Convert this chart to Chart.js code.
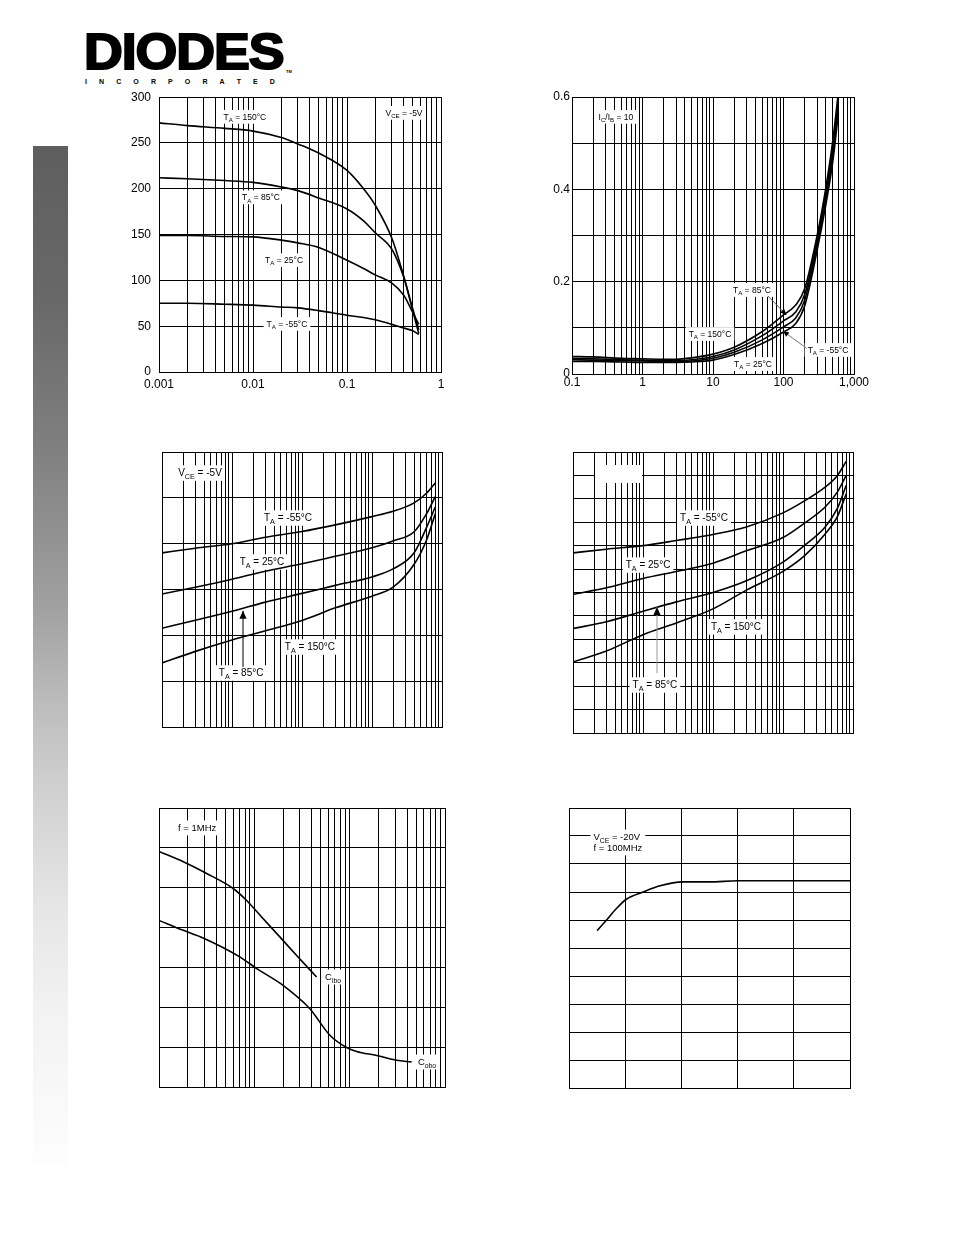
<!DOCTYPE html>
<html><head><meta charset="utf-8">
<script src="https://cdn.jsdelivr.net/npm/chart.js@4/dist/chart.umd.min.js"></script>
<style>
html,body{margin:0;padding:0;background:#fff;}
body{width:954px;height:1235px;position:relative;overflow:hidden;font-family:"Liberation Sans",Arial,sans-serif;}
canvas{position:absolute;}
#side{position:absolute;left:33px;top:146px;width:35px;height:1019px;
 background:linear-gradient(to bottom,#5e5e5e 0%,#686868 15%,#808080 30%,#a0a0a0 45%,#bdbdbd 55%,#d4d4d4 65%,#e6e6e6 75%,#f2f2f2 85%,#fdfdfd 100%);}
#logo-main{position:absolute;left:84px;top:26.5px;font:bold 50px/50px "Liberation Sans",Arial,sans-serif;letter-spacing:-1px;-webkit-text-stroke:2px #000;color:#000;transform:scaleX(1.075);transform-origin:0 0;white-space:nowrap;}
#logo-inc{position:absolute;left:85px;top:77.5px;width:190px;display:flex;justify-content:space-between;font:bold 7px/8px "Liberation Sans",Arial,sans-serif;color:#000;}
#logo-tm{position:absolute;left:286px;top:69px;font:bold 4px/5px "Liberation Sans",Arial,sans-serif;}
</style></head>
<body>
<div id="side"></div>
<div id="logo-main">DIODES</div>
<div id="logo-inc"><span>I</span><span>N</span><span>C</span><span>O</span><span>R</span><span>P</span><span>O</span><span>R</span><span>A</span><span>T</span><span>E</span><span>D</span></div>
<div id="logo-tm">TM</div>
<canvas id="c1"></canvas><canvas id="c2"></canvas><canvas id="c3"></canvas>
<canvas id="c4"></canvas><canvas id="c5"></canvas><canvas id="c6"></canvas>
<script>
// ================= DATA =================
// Chart 1: DC current gain vs collector current (A)
const c1Current = [0.001, 0.002, 0.005, 0.01, 0.02, 0.03, 0.05, 0.1, 0.15, 0.2, 0.3, 0.4, 0.5, 0.58];
const c1Gain150 = [272, 269, 266, 263, 256, 249, 239, 220, 200, 182, 146, 105, 67, 42];
const c1Gain85  = [212, 211, 209, 207, 202, 198, 190, 178, 165, 152, 134, 104, 69, 46];
const c1Gain25  = [149, 149, 148, 147.5, 144, 141, 136, 122, 113, 106, 97, 84, 65, 52];
const c1GainM55 = [75, 75, 74, 73, 71, 70, 67, 62, 59.5, 57, 52, 48, 45, 41];
const c1XLabelValues = [0.001, 0.01, 0.1, 1];
const c1XLabels = ['0.001', '0.01', '0.1', '1'];
const c1YTicks = [0, 50, 100, 150, 200, 250, 300];
const c1YLabels = ['0', '50', '100', '150', '200', '250', '300'];

// Chart 2: VCE(sat) vs collector current (mA)
const c2Current = [0.1, 0.2, 0.5, 1, 2, 3, 5, 10, 20, 50, 100, 150, 200, 300, 400, 500, 600];
const c2Vce150 = [0.038, 0.037, 0.034, 0.033, 0.032, 0.032, 0.035, 0.043, 0.058, 0.092, 0.128, 0.150, 0.185, 0.300, 0.405, 0.505, 0.610];
const c2Vce85  = [0.034, 0.033, 0.031, 0.030, 0.029, 0.029, 0.031, 0.038, 0.052, 0.083, 0.115, 0.135, 0.172, 0.290, 0.395, 0.490, 0.595];
const c2Vce25  = [0.031, 0.030, 0.029, 0.028, 0.027, 0.027, 0.028, 0.034, 0.047, 0.074, 0.102, 0.122, 0.160, 0.280, 0.380, 0.475, 0.580];
const c2VceM55 = [0.027, 0.027, 0.026, 0.025, 0.025, 0.025, 0.026, 0.030, 0.042, 0.066, 0.091, 0.110, 0.148, 0.268, 0.368, 0.460, 0.565];
const c2XLabelValues = [0.1, 1, 10, 100, 1000];
const c2XLabels = ['0.1', '1', '10', '100', '1,000'];
const c2YTicks = [0, 0.1, 0.2, 0.3, 0.4, 0.5, 0.6];
const c2YLabelValues = [0, 0.2, 0.4, 0.6];
const c2YLabels = ['0', '0.2', '0.4', '0.6'];

// Chart 3: VBE(on) vs collector current
const c3Current = [0.1, 0.3, 1, 3, 10, 30, 100, 200, 400, 600, 800];
const c3VbeM55 = [0.760, 0.780, 0.800, 0.828, 0.853, 0.882, 0.918, 0.941, 0.978, 1.020, 1.065];
const c3Vbe25  = [0.580, 0.610, 0.645, 0.680, 0.712, 0.745, 0.782, 0.812, 0.852, 0.930, 1.005];
const c3Vbe85  = [0.431, 0.466, 0.505, 0.545, 0.583, 0.618, 0.655, 0.690, 0.760, 0.870, 0.960];
const c3Vbe150 = [0.279, 0.330, 0.380, 0.420, 0.465, 0.520, 0.571, 0.610, 0.710, 0.815, 0.930];
const c3YTicks = [0, 0.2, 0.4, 0.6, 0.8, 1.0, 1.2];

// Chart 4: VBE(sat) vs collector current
const c4Current = [0.1, 0.3, 1, 3, 10, 30, 100, 200, 400, 600, 800];
const c4VbeM55 = [0.769, 0.785, 0.800, 0.822, 0.848, 0.880, 0.940, 0.990, 1.050, 1.100, 1.160];
const c4Vbe25  = [0.592, 0.620, 0.660, 0.690, 0.725, 0.778, 0.835, 0.895, 0.965, 1.030, 1.100];
const c4Vbe85  = [0.446, 0.475, 0.520, 0.560, 0.600, 0.650, 0.730, 0.800, 0.880, 0.960, 1.058];
const c4Vbe150 = [0.303, 0.350, 0.420, 0.470, 0.530, 0.610, 0.690, 0.755, 0.850, 0.925, 1.022];
const c4YTicks = [0, 0.1, 0.2, 0.3, 0.4, 0.5, 0.6, 0.7, 0.8, 0.9, 1.0, 1.1, 1.2];

// Chart 5: capacitance vs reverse voltage
const c5CiboV = [0.1, 0.18, 0.32, 0.6, 0.83, 1.24, 1.86, 2.78, 4.5];
const c5Cibo  = [59.1, 56.5, 53.5, 49.8, 46.8, 42.2, 37.6, 33, 27.6];
const c5CoboV = [0.1, 0.18, 0.29, 0.71, 1.06, 2.0, 3.8, 6.2, 9.3, 11.8, 19.2, 31, 44.6];
const c5Cobo  = [41.8, 39.3, 37.4, 32.6, 29.7, 25.5, 19.7, 13, 9.9, 8.9, 7.9, 6.7, 6.3];
const c5YTicks = [0, 10, 20, 30, 40, 50, 60, 70];

// Chart 6: gain-bandwidth product vs collector current
const c6Current = [5, 6.6, 8.4, 10.2, 13.2, 16.2, 20.2, 25, 30, 40, 50];
const c6Ft      = [281, 299, 320, 337, 350, 361, 368, 368, 370, 370, 370];
const c6XTicks = [0, 10, 20, 30, 40, 50];
const c6YTicks = [0, 50, 100, 150, 200, 250, 300, 350, 400, 450, 500];

// ================= HELPERS =================
const FONT = '"Liberation Sans", Arial, sans-serif';
Chart.defaults.font.family = FONT;
Chart.defaults.color = '#000';

function logGrid(min, max) {
  const out = [];
  const e0 = Math.floor(Math.log10(min) + 1e-9), e1 = Math.ceil(Math.log10(max) - 1e-9);
  for (let e = e0; e <= e1; e++) for (let m = 1; m <= 9; m++) {
    const v = parseFloat((m * Math.pow(10, e)).toPrecision(6));
    if (v >= min * 0.9999 && v <= max * 1.0001) out.push(v);
  }
  return out;
}
function near(a, b) { return Math.abs(a - b) <= Math.abs(b) * 1e-6 + 1e-9; }
function series(xs, ys) { return xs.map((x, i) => ({ x, y: ys[i] })); }
function line(name, xs, ys) {
  return { label: name, data: series(xs, ys), showLine: true, borderColor: '#000', borderWidth: 1.6,
           pointRadius: 0, fill: false, cubicInterpolationMode: 'monotone' };
}

function parseRich(s) {
  const parts = []; const re = /_\{([^}]*)\}/g; let last = 0, m;
  while ((m = re.exec(s))) {
    if (m.index > last) parts.push({ t: s.slice(last, m.index), sub: false });
    parts.push({ t: m[1], sub: true }); last = re.lastIndex;
  }
  if (last < s.length) parts.push({ t: s.slice(last), sub: false });
  return parts;
}
function drawLabel(ctx, cx, cy, lines, size) {
  const sub = size * 0.72, lh = size * 1.15;
  const parsed = lines.map(parseRich);
  const widths = parsed.map(ps => ps.reduce((w, p) => { ctx.font = (p.sub ? sub : size) + 'px ' + FONT; return w + ctx.measureText(p.t).width; }, 0));
  const maxW = Math.max(...widths);
  const W = maxW + 6, H = lh * lines.length + 4;
  ctx.fillStyle = '#fff'; ctx.fillRect(cx - W / 2, cy - H / 2, W, H);
  ctx.fillStyle = '#000'; ctx.textAlign = 'left'; ctx.textBaseline = 'alphabetic';
  parsed.forEach((ps, i) => {
    let x = lines.length > 1 ? cx - maxW / 2 : cx - widths[i] / 2;
    const base = cy - H / 2 + 2 + lh * i + size * 0.9;
    ps.forEach(p => {
      ctx.font = (p.sub ? sub : size) + 'px ' + FONT;
      ctx.fillText(p.t, x, base + (p.sub ? size * 0.3 : 0));
      x += ctx.measureText(p.t).width;
    });
  });
}
const notesPlugin = {
  id: 'notes',
  beforeDatasetsDraw(chart, args, opts) {
    const ctx = chart.ctx, xs = chart.scales.x, ys = chart.scales.y;
    ctx.save();
    (opts.boxes || []).forEach(b => {
      ctx.fillStyle = '#fff';
      ctx.fillRect(xs.getPixelForValue(b.x) - b.w / 2, ys.getPixelForValue(b.y) - b.h / 2, b.w, b.h);
    });
    (opts.labels || []).forEach(l => drawLabel(ctx, xs.getPixelForValue(l.x), ys.getPixelForValue(l.y), l.text, opts.size || 9));
    ctx.restore();
  },
  afterDatasetsDraw(chart, args, opts) {
    const ctx = chart.ctx, xs = chart.scales.x, ys = chart.scales.y;
    ctx.save();
    (opts.arrows || []).forEach(a => {
      const x1 = xs.getPixelForValue(a.x1), y1 = ys.getPixelForValue(a.y1);
      const x2 = xs.getPixelForValue(a.x2), y2 = ys.getPixelForValue(a.y2);
      ctx.strokeStyle = a.color; ctx.lineWidth = 1;
      ctx.beginPath(); ctx.moveTo(x1, y1); ctx.lineTo(x2, y2); ctx.stroke();
      const ang = Math.atan2(y2 - y1, x2 - x1), L = a.head, Wd = a.head * 0.45;
      ctx.fillStyle = '#000'; ctx.beginPath();
      ctx.moveTo(x2, y2);
      ctx.lineTo(x2 - L * Math.cos(ang) + Wd * Math.sin(ang), y2 - L * Math.sin(ang) - Wd * Math.cos(ang));
      ctx.lineTo(x2 - L * Math.cos(ang) - Wd * Math.sin(ang), y2 - L * Math.sin(ang) + Wd * Math.cos(ang));
      ctx.closePath(); ctx.fill();
    });
    ctx.restore();
  }
};
Chart.register(notesPlugin);

function axis(spec, which) {
  const show = !!spec.labels;
  return {
    type: spec.type, min: spec.min, max: spec.max, position: which === 'x' ? 'bottom' : 'left',
    grid: { color: '#000', lineWidth: 1, drawTicks: false },
    border: { color: '#000', width: 1 },
    ticks: {
      display: show, autoSkip: false, maxRotation: 0, minRotation: 0, padding: spec.pad || 0,
      color: '#000', font: { family: FONT, size: 12 },
      callback: (v) => { if (!show) return ''; const i = spec.labelValues.findIndex(t => near(t, v)); return i >= 0 ? spec.labels[i] : ''; }
    },
    afterBuildTicks: (s) => { s.ticks = spec.grid.map(v => ({ value: v })); },
    afterFit: (s) => { if (which === 'x') s.height = spec.size || 0; else s.width = spec.size || 0; }
  };
}

function makeChart(id, plot, m, xSpec, ySpec, datasets, notes) {
  const cv = document.getElementById(id);
  let w = plot.r - plot.l + m.l + m.r, h = plot.b - plot.t + m.t + m.b;
  let L = plot.l - m.l, T = plot.t - m.t;
  cv.width = w; cv.height = h;
  cv.style.left = L + 'px'; cv.style.top = T + 'px';
  cv.style.width = w + 'px'; cv.style.height = h + 'px';
  const chart = new Chart(cv, {
    type: 'scatter',
    data: { datasets },
    options: {
      responsive: false, animation: false, devicePixelRatio: 1,
      layout: { padding: { left: m.l - (ySpec.size || 0), top: m.t, right: m.r, bottom: m.b - (xSpec.size || 0) } },
      plugins: { legend: { display: false }, tooltip: { enabled: false }, notes },
      events: [],
      scales: { x: axis(xSpec, 'x'), y: axis(ySpec, 'y') }
    }
  });
  // align the library's chart area with the intended plot rectangle
  for (let k = 0; k < 4; k++) {
    const ca = chart.chartArea;
    const dl = plot.l - (L + ca.left), dt = plot.t - (T + ca.top);
    const dr = plot.r - (L + ca.right), db = plot.b - (T + ca.bottom);
    if (Math.abs(dl) < 0.5 && Math.abs(dt) < 0.5 && Math.abs(dr) < 0.5 && Math.abs(db) < 0.5) break;
    L += dl; T += dt; w += dr - dl; h += db - dt;
    w = Math.round(w); h = Math.round(h); L = Math.round(L); T = Math.round(T);
    cv.style.left = L + 'px'; cv.style.top = T + 'px';
    chart.resize(w, h);
  }
  return chart;
}

// ================= CHARTS =================
makeChart('c1', { l: 159, t: 97, r: 441, b: 377 }, { l: 50, t: 10, r: 20, b: 26 },
  { type: 'logarithmic', min: 0.001, max: 1, grid: logGrid(0.001, 1), labelValues: c1XLabelValues, labels: c1XLabels, size: 24, pad: 5 },
  { type: 'linear', min: 0, max: 300, grid: c1YTicks, labelValues: c1YTicks, labels: c1YLabels, size: 48, pad: 8 },
  [line('TA = 150°C', c1Current, c1Gain150), line('TA = 85°C', c1Current, c1Gain85),
   line('TA = 25°C', c1Current, c1Gain25), line('TA = -55°C', c1Current, c1GainM55)],
  { size: 8.5, labels: [
    { x: 0.0082, y: 278.6, text: ['T_{A} = 150°C'] },
    { x: 0.404, y: 282.9, text: ['V_{CE} = -5V'] },
    { x: 0.01216, y: 190.7, text: ['T_{A} = 85°C'] },
    { x: 0.0214, y: 122.1, text: ['T_{A} = 25°C'] },
    { x: 0.023, y: 52.5, text: ['T_{A} = -55°C'] } ] });

makeChart('c2', { l: 572, t: 97, r: 854, b: 374 }, { l: 50, t: 10, r: 25, b: 26 },
  { type: 'logarithmic', min: 0.1, max: 1000, grid: logGrid(0.1, 1000), labelValues: c2XLabelValues, labels: c2XLabels, size: 24, pad: 1 },
  { type: 'linear', min: 0, max: 0.6, grid: c2YTicks, labelValues: c2YLabelValues, labels: c2YLabels, size: 48, pad: 2 },
  [line('TA = 150°C', c2Current, c2Vce150), line('TA = 85°C', c2Current, c2Vce85),
   line('TA = 25°C', c2Current, c2Vce25), line('TA = -55°C', c2Current, c2VceM55)],
  { size: 8.5, labels: [
    { x: 0.42, y: 0.557, text: ['I_{C}/I_{B} = 10'] },
    { x: 35.7, y: 0.182, text: ['T_{A} = 85°C'] },
    { x: 9.06, y: 0.0866, text: ['T_{A} = 150°C'] },
    { x: 428, y: 0.052, text: ['T_{A} = -55°C'] },
    { x: 36.9, y: 0.0217, text: ['T_{A} = 25°C'] } ],
    arrows: [
    { x1: 60, y1: 0.169, x2: 110, y2: 0.128, color: '#555', head: 6 },
    { x1: 212, y1: 0.056, x2: 98, y2: 0.093, color: '#777', head: 6 } ] });

makeChart('c3', { l: 162, t: 452, r: 442, b: 727 }, { l: 3, t: 3, r: 3, b: 3 },
  { type: 'logarithmic', min: 0.1, max: 1000, grid: logGrid(0.1, 1000) },
  { type: 'linear', min: 0, max: 1.2, grid: c3YTicks },
  [line('TA = -55°C', c3Current, c3VbeM55), line('TA = 25°C', c3Current, c3Vbe25),
   line('TA = 85°C', c3Current, c3Vbe85), line('TA = 150°C', c3Current, c3Vbe150)],
  { size: 10, labels: [
    { x: 0.349, y: 1.108, text: ['V_{CE} = -5V'] },
    { x: 6.31, y: 0.912, text: ['T_{A} = -55°C'] },
    { x: 2.68, y: 0.72, text: ['T_{A} = 25°C'] },
    { x: 13, y: 0.349, text: ['T_{A} = 150°C'] },
    { x: 1.35, y: 0.2356, text: ['T_{A} = 85°C'] } ],
    arrows: [ { x1: 1.436, y1: 0.262, x2: 1.436, y2: 0.507, color: '#000', head: 8 } ] });

makeChart('c4', { l: 573, t: 452, r: 853, b: 733 }, { l: 3, t: 3, r: 3, b: 3 },
  { type: 'logarithmic', min: 0.1, max: 1000, grid: logGrid(0.1, 1000) },
  { type: 'linear', min: 0, max: 1.2, grid: c4YTicks },
  [line('TA = -55°C', c4Current, c4VbeM55), line('TA = 25°C', c4Current, c4Vbe25),
   line('TA = 85°C', c4Current, c4Vbe85), line('TA = 150°C', c4Current, c4Vbe150)],
  { size: 10, boxes: [ { x: 0.447, y: 1.106, w: 47, h: 18 } ], labels: [
    { x: 7.44, y: 0.918, text: ['T_{A} = -55°C'] },
    { x: 1.18, y: 0.717, text: ['T_{A} = 25°C'] },
    { x: 21.3, y: 0.453, text: ['T_{A} = 150°C'] },
    { x: 1.48, y: 0.205, text: ['T_{A} = 85°C'] } ],
    arrows: [ { x1: 1.585, y1: 0.256, x2: 1.585, y2: 0.538, color: '#999', head: 8 } ] });

makeChart('c5', { l: 159, t: 808, r: 445, b: 1087 }, { l: 3, t: 3, r: 3, b: 3 },
  { type: 'logarithmic', min: 0.1, max: 100, grid: logGrid(0.1, 100) },
  { type: 'linear', min: 0, max: 70, grid: c5YTicks },
  [line('Cibo', c5CiboV, c5Cibo), line('Cobo', c5CoboV, c5Cobo)],
  { size: 9.5, labels: [
    { x: 0.251, y: 65, text: ['f = 1MHz'] },
    { x: 6.69, y: 27.6, text: ['C_{ibo}'] },
    { x: 64.8, y: 6.27, text: ['C_{obo}'] } ] });

makeChart('c6', { l: 569, t: 808, r: 850, b: 1088 }, { l: 3, t: 3, r: 3, b: 3 },
  { type: 'linear', min: 0, max: 50, grid: c6XTicks },
  { type: 'linear', min: 0, max: 500, grid: c6YTicks },
  [line('fT', c6Current, c6Ft)],
  { size: 9.5, labels: [ { x: 8.7, y: 438.4, text: ['V_{CE} = -20V', 'f = 100MHz'] } ] });
</script>
</body></html>
